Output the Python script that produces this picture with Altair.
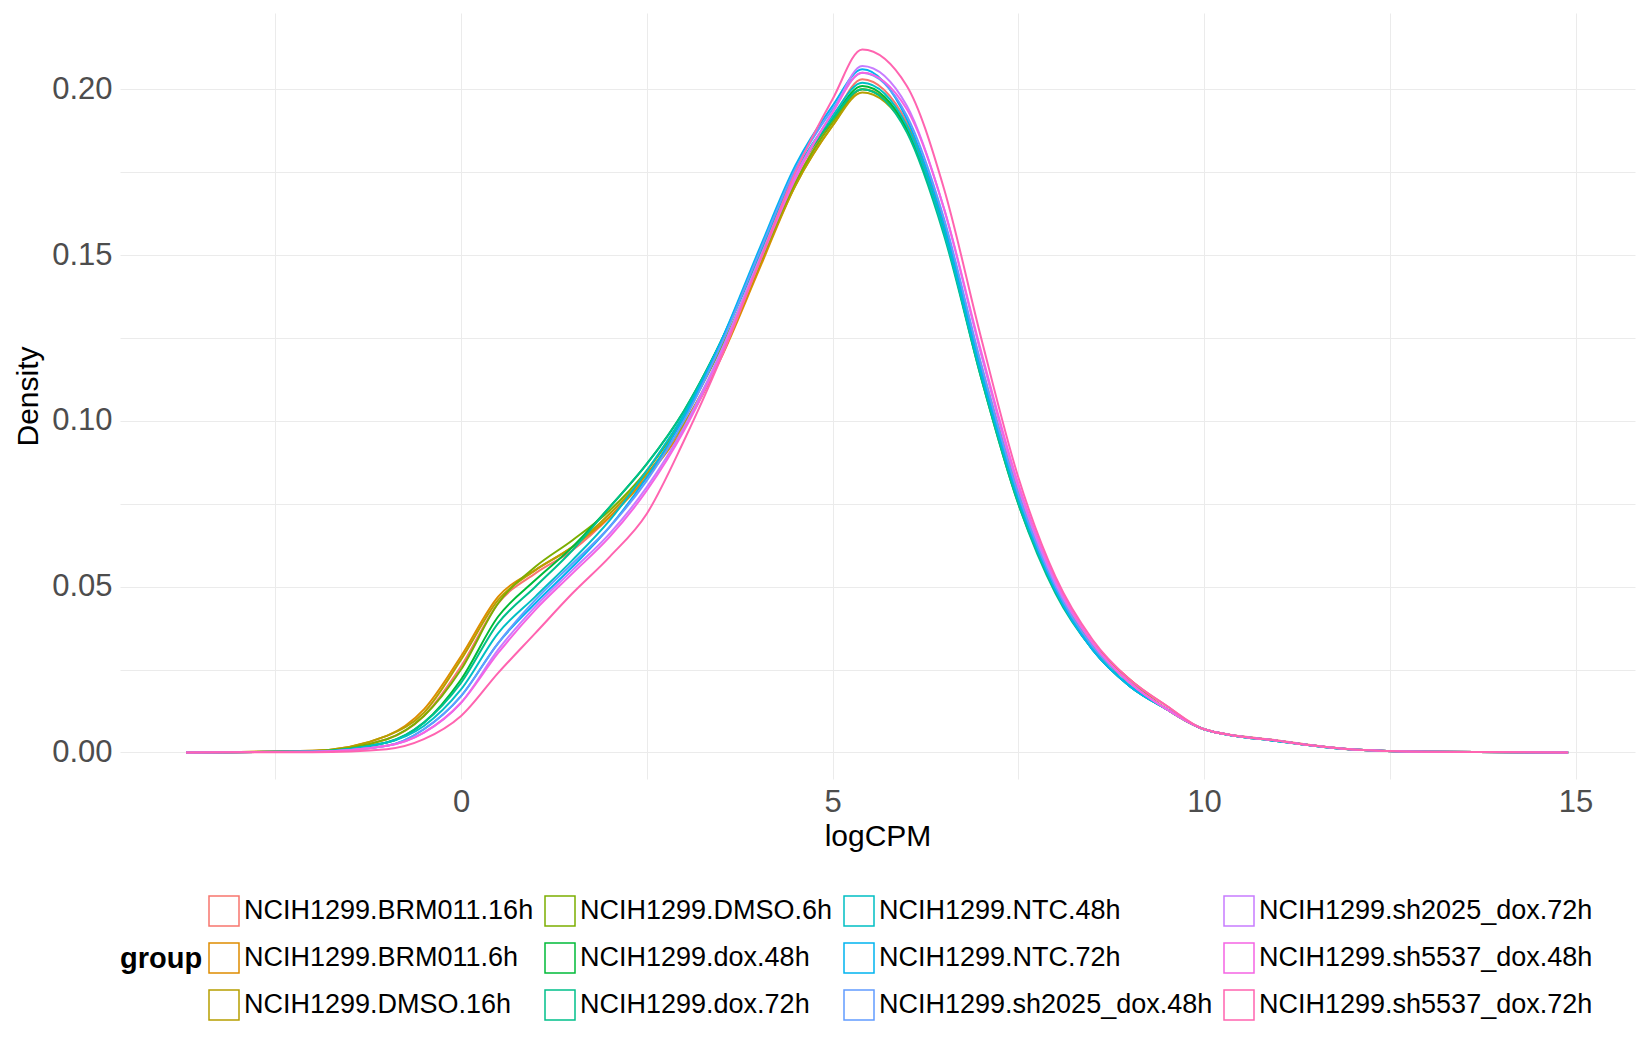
import altair as alt
import pandas as pd

xs = [-3.7,-2,-1,-0.5,0,0.5,1,1.5,2,2.5,3,3.5,4,4.5,5,5.4,6,6.5,7,7.5,8,8.5,9,9.5,10,11,12,13,14.9]

groups = ["NCIH1299.BRM011.16h","NCIH1299.BRM011.6h","NCIH1299.DMSO.16h","NCIH1299.DMSO.6h",
          "NCIH1299.dox.48h","NCIH1299.dox.72h","NCIH1299.NTC.48h","NCIH1299.NTC.72h",
          "NCIH1299.sh2025_dox.48h","NCIH1299.sh2025_dox.72h","NCIH1299.sh5537_dox.48h","NCIH1299.sh5537_dox.72h"]
colors = ["#F8766D","#DE8C00","#B79F00","#7CAE00","#00BA38","#00C08B","#00BFC4","#00B4F0","#619CFF","#C77CFF","#F564E3","#FF64B0"]

dens = {
 "NCIH1299.BRM011.16h":   [0,0.0004,0.004,0.011,0.026,0.045,0.054,0.061,0.071,0.084,0.099,0.120,0.146,0.172,0.191,0.203,0.190,0.160,0.117,0.079,0.051,0.033,0.022,0.014,0.007,0.0036,0.0009,0.0002,0],
 "NCIH1299.BRM011.6h":    [0,0.0005,0.005,0.013,0.029,0.047,0.055,0.062,0.071,0.083,0.098,0.119,0.145,0.171,0.189,0.200,0.189,0.159,0.116,0.078,0.050,0.033,0.022,0.013,0.007,0.0035,0.0009,0.0002,0],
 "NCIH1299.DMSO.16h":     [0,0.0005,0.005,0.012,0.028,0.046,0.055,0.062,0.072,0.084,0.099,0.120,0.146,0.171,0.189,0.199,0.188,0.158,0.115,0.077,0.050,0.032,0.021,0.013,0.007,0.0035,0.0009,0.0002,0],
 "NCIH1299.DMSO.6h":      [0,0.0004,0.004,0.011,0.025,0.045,0.056,0.064,0.073,0.085,0.101,0.122,0.147,0.172,0.190,0.200,0.188,0.157,0.114,0.076,0.049,0.032,0.021,0.013,0.007,0.0035,0.0009,0.0002,0],
 "NCIH1299.dox.48h":      [0,0.0003,0.003,0.009,0.022,0.041,0.052,0.062,0.074,0.087,0.103,0.124,0.149,0.174,0.191,0.201,0.188,0.157,0.113,0.075,0.049,0.031,0.020,0.013,0.007,0.0034,0.0009,0.0002,0],
 "NCIH1299.dox.72h":      [0,0.0003,0.003,0.009,0.021,0.039,0.050,0.061,0.074,0.087,0.103,0.124,0.149,0.174,0.191,0.200,0.187,0.156,0.113,0.075,0.048,0.031,0.020,0.013,0.007,0.0034,0.0009,0.0002,0],
 "NCIH1299.NTC.48h":      [0,0.0003,0.003,0.008,0.019,0.036,0.047,0.058,0.070,0.085,0.102,0.124,0.150,0.175,0.192,0.202,0.189,0.157,0.114,0.076,0.049,0.031,0.020,0.013,0.007,0.0034,0.0009,0.0002,0],
 "NCIH1299.NTC.72h":      [0,0.0002,0.002,0.007,0.017,0.033,0.045,0.056,0.068,0.083,0.101,0.124,0.151,0.177,0.195,0.206,0.191,0.159,0.115,0.077,0.049,0.031,0.020,0.013,0.007,0.0034,0.0009,0.0002,0],
 "NCIH1299.sh2025_dox.48h":[0,0.0002,0.002,0.007,0.017,0.033,0.046,0.057,0.068,0.082,0.100,0.123,0.150,0.176,0.194,0.205,0.192,0.161,0.117,0.078,0.050,0.032,0.021,0.013,0.007,0.0035,0.0009,0.0002,0],
 "NCIH1299.sh2025_dox.72h":[0,0.0002,0.002,0.006,0.015,0.031,0.044,0.055,0.066,0.080,0.098,0.121,0.148,0.174,0.193,0.207,0.195,0.164,0.120,0.080,0.051,0.033,0.021,0.013,0.007,0.0035,0.0009,0.0002,0],
 "NCIH1299.sh5537_dox.48h":[0,0.0002,0.002,0.006,0.015,0.030,0.043,0.054,0.065,0.079,0.097,0.120,0.147,0.173,0.193,0.205,0.194,0.164,0.121,0.081,0.052,0.033,0.021,0.013,0.007,0.0035,0.0009,0.0002,0],
 "NCIH1299.sh5537_dox.72h":[0,0.0001,0.001,0.004,0.011,0.024,0.036,0.048,0.059,0.072,0.094,0.119,0.147,0.175,0.197,0.212,0.201,0.170,0.125,0.083,0.053,0.034,0.022,0.014,0.007,0.0035,0.0009,0.0002,0],
}

rows = []
for g in groups:
    for x, y in zip(xs, dens[g]):
        rows.append({"x": x, "y": y, "group": g})
df = pd.DataFrame(rows)

order = [0,3,6,9,1,4,7,10,2,5,8,11]
dom = [groups[i] for i in order]
rng = [colors[i] for i in order]

font = "Liberation Sans"
chart = alt.Chart(df).mark_line(strokeWidth=2, interpolate="monotone").encode(
    x=alt.X("x:Q", title="logCPM",
            scale=alt.Scale(domain=[-4.59, 15.8], nice=False, zero=False),
            axis=alt.Axis(values=[-2.5,0,2.5,5,7.5,10,12.5,15],
                          labelExpr="datum.value % 5 == 0 ? datum.label : ''",
                          format="d", labelFontSize=31, titleFontSize=30, labelColor="#4D4D4D",
                          titleColor="black", titleFontWeight="normal", domain=False, ticks=False,
                          gridColor="#EBEBEB", labelPadding=8, titlePadding=4, labelFont=font, titleFont=font)),
    y=alt.Y("y:Q", title="Density",
            scale=alt.Scale(domain=[-0.008, 0.223], nice=False),
            axis=alt.Axis(values=[0,0.025,0.05,0.075,0.1,0.125,0.15,0.175,0.2],
                          labelExpr="(round(datum.value*1000) % 50 == 0) ? format(datum.value, '.2f') : ''",
                          labelFontSize=31, titleFontSize=30, labelColor="#4D4D4D",
                          titleColor="black", titleFontWeight="normal", domain=False, ticks=False,
                          gridColor="#EBEBEB", labelPadding=8, titlePadding=8, labelFont=font, titleFont=font)),
    color=alt.Color("group:N", scale=alt.Scale(domain=dom, range=rng),
                    legend=alt.Legend(orient="bottom", direction="horizontal", columns=4,
                                      title="group", titleOrient="left", titleFontSize=29,
                                      titleFontWeight="bold", labelFontSize=27, symbolType="square",
                                      symbolSize=900, symbolStrokeWidth=1.5, symbolFillColor="white",
                                      labelLimit=450, rowPadding=11, columnPadding=8,
                                      titleFont=font, labelFont=font,
                                      titleBaseline="middle", offset=44)),
).properties(width=1515, height=766).configure_view(stroke=None)

chart.save("out.html", embed_options={"renderer": "svg", "actions": False})
